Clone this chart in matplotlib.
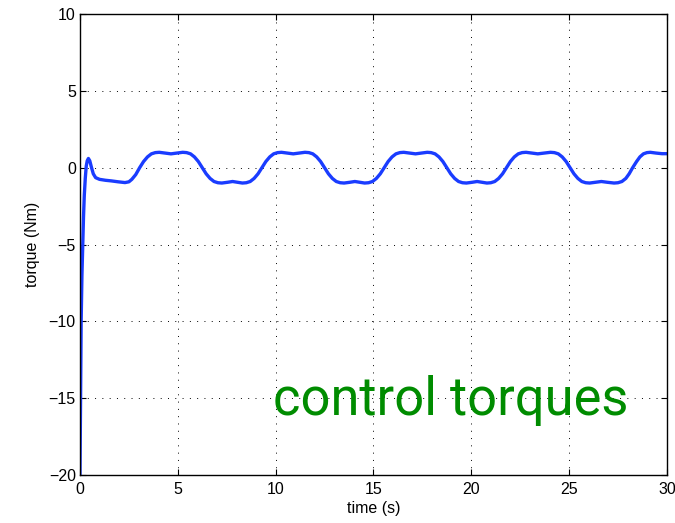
import matplotlib
matplotlib.use("Agg")
import matplotlib.pyplot as plt

# time (s) and control torque (Nm)
time_s = [
    0.0, 0.03, 0.06, 0.1, 0.14, 0.18, 0.22, 0.27, 0.32, 0.37, 0.43, 0.5, 0.58,
    0.68, 0.8, 1.0, 1.3, 1.6, 1.95, 2.3, 2.5, 2.65, 2.85,
    3.05, 3.25, 3.45, 3.65, 3.85, 4.05, 4.35, 4.65, 4.95, 5.25, 5.45, 5.65, 5.85, 6.05,
    6.25, 6.45, 6.65, 6.85, 7.05, 7.25, 7.55, 7.8, 8.05, 8.3, 8.5, 8.7, 8.9, 9.1,
    9.3, 9.5, 9.7, 9.9, 10.1, 10.3, 10.6, 10.9, 11.2, 11.5, 11.7, 11.9, 12.1, 12.3,
    12.5, 12.7, 12.9, 13.1, 13.3, 13.5, 13.8, 14.05, 14.3, 14.55, 14.75, 14.95, 15.15, 15.35,
    15.55, 15.75, 15.95, 16.15, 16.35, 16.55, 16.85, 17.15, 17.45, 17.75, 17.95, 18.15, 18.35, 18.55,
    18.75, 18.95, 19.15, 19.35, 19.55, 19.75, 20.05, 20.3, 20.55, 20.8, 21.0, 21.2, 21.4, 21.6,
    21.8, 22.0, 22.2, 22.4, 22.6, 22.8, 23.1, 23.4, 23.75, 24.05, 24.25, 24.45, 24.65, 24.85,
    25.05, 25.25, 25.45, 25.65, 25.85, 26.05, 26.35, 26.65, 26.95, 27.3, 27.5, 27.7, 27.9, 28.07,
    28.25, 28.45, 28.62, 28.8, 28.98, 29.15, 29.45, 29.75, 30.0,
]
torque_nm = [
    -20.0, -15.0, -10.0, -7.0, -5.0, -3.2, -1.8, -0.7, 0.1, 0.45, 0.6, 0.45, 0.05,
    -0.4, -0.65, -0.76, -0.82, -0.86, -0.92, -0.97, -0.92, -0.76, -0.45,
    0.0, 0.4, 0.7, 0.9, 0.98, 1.0, 0.95, 0.9, 0.95, 1.0, 0.98, 0.9, 0.7, 0.4,
    0.0, -0.4, -0.7, -0.9, -0.98, -1.0, -0.95, -0.9, -0.95, -1.0, -0.98, -0.9, -0.7, -0.4,
    0.0, 0.4, 0.7, 0.9, 0.98, 1.0, 0.95, 0.9, 0.95, 1.0, 0.98, 0.9, 0.7, 0.4,
    0.0, -0.4, -0.7, -0.9, -0.98, -1.0, -0.95, -0.9, -0.95, -1.0, -0.98, -0.9, -0.7, -0.4,
    0.0, 0.4, 0.7, 0.9, 0.98, 1.0, 0.95, 0.9, 0.95, 1.0, 0.98, 0.9, 0.7, 0.4,
    0.0, -0.4, -0.7, -0.9, -0.98, -1.0, -0.95, -0.9, -0.95, -1.0, -0.98, -0.9, -0.7, -0.4,
    0.0, 0.4, 0.7, 0.9, 0.98, 1.0, 0.95, 0.9, 0.95, 1.0, 0.98, 0.9, 0.7, 0.4,
    0.0, -0.4, -0.7, -0.9, -0.98, -1.0, -0.95, -0.9, -0.95, -1.0, -0.98, -0.9, -0.7, -0.4,
    0.0, 0.4, 0.7, 0.9, 0.98, 1.0, 0.95, 0.91, 0.91,
]
x_ticks = [0, 5, 10, 15, 20, 25, 30]
y_ticks = [-20, -15, -10, -5, 0, 5, 10]

plt.rcParams["font.family"] = ["Liberation Sans", "DejaVu Sans"]

fig = plt.figure(figsize=(6.75, 5.23), dpi=100)
ax = fig.add_axes([0.1185, 0.0918, 0.8695, 0.8814])

ax.plot(time_s, torque_nm, color="#1a3cff", linewidth=2.4,
        solid_capstyle="round", solid_joinstyle="round")

ax.set_xlim(0, 30)
ax.set_ylim(-20, 10)
ax.set_xticks(x_ticks)
ax.set_yticks(y_ticks)
ax.set_yticklabels([str(v).replace("-", "\u2212") for v in y_ticks])
ax.tick_params(direction="in", top=True, right=True, labelsize=11.5, length=4)
ax.tick_params(axis="x", pad=5)
ax.tick_params(axis="y", pad=3)
ax.grid(True, color="black", linestyle=(0, (1, 6.5)), linewidth=0.7)
for spine in ax.spines.values():
    spine.set_linewidth(1.0)

ax.set_xlabel("time (s)", fontsize=11.5, labelpad=3)
ax.set_ylabel("torque (Nm)", fontsize=11.5, labelpad=6)

ax.text(9.85, -16.1, "control torques", color="#008c00", fontsize=37.8,
        family=["Roboto", "DejaVu Sans"], ha="left", va="baseline")

fig.savefig("out.png", dpi=100)
